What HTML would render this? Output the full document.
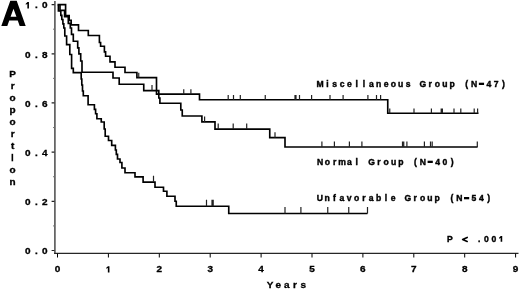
<!DOCTYPE html>
<html><head><meta charset="utf-8"><style>
html,body{margin:0;padding:0;background:#fff;}
body{width:520px;height:291px;overflow:hidden;}
svg{display:block;will-change:transform;}
</style></head><body>
<svg width="520" height="291" viewBox="0 0 520 291">
<rect width="520" height="291" fill="#fff"/>
<g fill="none" stroke="#000">
<path d="M54.9,1 V253.9" stroke-width="1.6" stroke="#555"/>
<path d="M54.1,253.4 H518.5" stroke-width="1.1" stroke="#262626"/>
<path d="M51.6,250.50 H54.5 M51.6,201.32 H54.5 M51.6,152.14 H54.5 M51.6,102.96 H54.5 M51.6,53.78 H54.5 M51.6,4.60 H54.5" stroke-width="1.2" stroke="#222"/>
<path d="M53,225.91 H54.5 M53,176.73 H54.5 M53,127.55 H54.5 M53,78.37 H54.5 M53,29.19 H54.5" stroke-width="1" stroke="#777"/>
<path d="M57.50,253.5 V257.5 M108.40,253.5 V257.5 M159.30,253.5 V257.5 M210.20,253.5 V257.5 M261.10,253.5 V257.5 M312.00,253.5 V257.5 M362.90,253.5 V257.5 M413.80,253.5 V257.5 M464.70,253.5 V257.5 M515.60,253.5 V257.5" stroke-width="1"/>
<path d="M57.5,4.7 H65.6 V15.6 H69.2 V20.3 H71.2 V24.8 H78.5 V30.5 H88.3 V35.5 H99.4 V42.5 H100.6 V46.25 H104.4 V51.9 H105.6 V56.25 H110 V61.9 H115 V67.25 H125 V72.5 H136.9 V77.6 H156.5 V94.15 H199.5 V99.75 H387.75 V113.2 H478.5" stroke-width="1.65"/>
<path d="M60,4.7 V10.3 H64.6 V16.6 H68.3 V23.3 H70.3 V28 H71.5 V34.4 H73.3 V41.2 H77.7 V47.8 H78.9 V53.9 H80.7 V61 H82 V72.2 H113 V78 H119.2 V84.2 H143.75 V90.6 H158.8 V98 H159.9 V103.2 H180.8 V110 H182.25 V116 H201.9 V121.9 H215 V129.05 H269.75 V137.65 H285 V147.0 H477.6" stroke-width="1.65"/>
<path d="M58.4,4.7 V11 H60.8 V15.4 H61.8 V19.5 H62.9 V23.8 H63.8 V28 H64.8 V36 H66.6 V44.6 H69.8 V54.5 H71.6 V68.3 H73.3 V72.6 H81.2 V79 H81.8 V85 H82.5 V91 H83.3 V95.7 H88.1 V104.75 H94.4 V109.4 H95.6 V113.75 H96.9 V118.75 H101.25 V122 H104.2 V129 H105.2 V136.25 H108.5 V140.5 H111.7 V145.4 H115.4 V150 H116.3 V154.4 H117.5 V159 H120 V162.5 H121.9 V168 H125 V172.75 H135 V176.9 H143.1 V182.1 H155 V187.2 H163.5 V191.25 H166.9 V196.25 H175 V201.25 H176.25 V206.2 H228.75 V213.5 H367.5" stroke-width="1.65"/>
<path d="M153.5,182.1 V175.70 M206.5,206.2 V199.80 M212.0,206.2 V199.80 M213.2,206.2 V199.80 M285,213.5 V207.10 M300.9,213.5 V207.10 M327.75,213.5 V207.10 M348.75,213.5 V207.10 M367.5,213.5 V207.10 M138.75,77.6 V72.80 M183.75,94.15 V89.35 M190.9,94.15 V89.35 M228.2,99.75 V94.95 M233.5,99.75 V94.95 M240.3,99.75 V94.95 M265.25,99.75 V94.95 M295,99.75 V94.95 M296,99.75 V94.95 M299.5,99.75 V94.95 M311.6,99.75 V94.95 M330,99.75 V94.95 M343.1,99.75 V94.95 M367.9,99.75 V94.95 M376.5,99.75 V94.95 M380.6,99.75 V94.95 M389.75,113.2 V108.40 M414,113.2 V108.40 M431.4,113.2 V108.40 M441.2,113.2 V108.40 M442.4,113.2 V108.40 M454,113.2 V108.40 M460.8,113.2 V108.40 M474.2,113.2 V108.40 M477.6,113.2 V108.40 M152,90.6 V85.10 M204.6,121.9 V116.40 M218.2,129.05 V123.55 M233.2,129.05 V123.55 M246.7,129.05 V123.55 M275,137.65 V132.15 M321.9,147.0 V141.50 M334.4,147.0 V141.50 M349.4,147.0 V141.50 M361.9,147.0 V141.50 M402.5,147.0 V141.50 M403.75,147.0 V141.50 M406.9,147.0 V141.50 M424.4,147.0 V141.50 M430.5,147.0 V141.50 M432.2,147.0 V141.50 M477.3,147.0 V141.50" stroke-width="1.2" stroke="#222"/>
</g>
<g font-family='"Liberation Sans", sans-serif' font-weight="bold" fill="#000">
<text x="27.90 36.35 44.80" y="254.30" font-size="10.0" text-anchor="middle" stroke="#000" stroke-width="0.35" transform="matrix(1 0 0 0.86 0 35.602)">0.0</text>
<text x="27.90 36.35 44.80" y="205.12" font-size="10.0" text-anchor="middle" stroke="#000" stroke-width="0.35" transform="matrix(1 0 0 0.86 0 28.717)">0.2</text>
<text x="27.90 36.35 44.80" y="155.94" font-size="10.0" text-anchor="middle" stroke="#000" stroke-width="0.35" transform="matrix(1 0 0 0.86 0 21.832)">0.4</text>
<text x="27.90 36.35 44.80" y="106.76" font-size="10.0" text-anchor="middle" stroke="#000" stroke-width="0.35" transform="matrix(1 0 0 0.86 0 14.946)">0.6</text>
<text x="27.90 36.35 44.80" y="57.58" font-size="10.0" text-anchor="middle" stroke="#000" stroke-width="0.35" transform="matrix(1 0 0 0.86 0 8.061)">0.8</text>
<text x="36.35 44.80" y="8.40" font-size="10.0" text-anchor="middle" stroke="#000" stroke-width="0.35" transform="matrix(1 0 0 0.86 0 1.176)">.0</text>
<text x="57.50" y="272.4" font-size="10.0" text-anchor="middle" stroke="#000" stroke-width="0.35" transform="matrix(1 0 0 0.86 0 38.136)">0</text>
<text x="159.30" y="272.4" font-size="10.0" text-anchor="middle" stroke="#000" stroke-width="0.35" transform="matrix(1 0 0 0.86 0 38.136)">2</text>
<text x="210.20" y="272.4" font-size="10.0" text-anchor="middle" stroke="#000" stroke-width="0.35" transform="matrix(1 0 0 0.86 0 38.136)">3</text>
<text x="261.10" y="272.4" font-size="10.0" text-anchor="middle" stroke="#000" stroke-width="0.35" transform="matrix(1 0 0 0.86 0 38.136)">4</text>
<text x="312.00" y="272.4" font-size="10.0" text-anchor="middle" stroke="#000" stroke-width="0.35" transform="matrix(1 0 0 0.86 0 38.136)">5</text>
<text x="362.90" y="272.4" font-size="10.0" text-anchor="middle" stroke="#000" stroke-width="0.35" transform="matrix(1 0 0 0.86 0 38.136)">6</text>
<text x="413.80" y="272.4" font-size="10.0" text-anchor="middle" stroke="#000" stroke-width="0.35" transform="matrix(1 0 0 0.86 0 38.136)">7</text>
<text x="464.70" y="272.4" font-size="10.0" text-anchor="middle" stroke="#000" stroke-width="0.35" transform="matrix(1 0 0 0.86 0 38.136)">8</text>
<text x="515.60" y="272.4" font-size="10.0" text-anchor="middle" stroke="#000" stroke-width="0.35" transform="matrix(1 0 0 0.86 0 38.136)">9</text>
<text x="270.00 278.35 286.70 295.05 303.40" y="288.0" font-size="10.0" text-anchor="middle" stroke="#000" stroke-width="0.35" transform="matrix(1 0 0 0.86 0 40.320)">Years</text>
<rect x="11.55" y="153.8" width="1.6" height="7.5"/>
<text x="12.6" y="77.20" font-size="10.0" text-anchor="middle" stroke="#000" stroke-width="0.35" transform="matrix(1 0 0 0.86 0 10.808)">P</text>
<text x="12.6" y="89.17" font-size="10.0" text-anchor="middle" stroke="#000" stroke-width="0.35" transform="matrix(1 0 0 0.86 0 12.484)">r</text>
<text x="12.6" y="101.14" font-size="10.0" text-anchor="middle" stroke="#000" stroke-width="0.35" transform="matrix(1 0 0 0.86 0 14.160)">o</text>
<text x="12.6" y="113.11" font-size="10.0" text-anchor="middle" stroke="#000" stroke-width="0.35" transform="matrix(1 0 0 0.86 0 15.835)">p</text>
<text x="12.6" y="125.08" font-size="10.0" text-anchor="middle" stroke="#000" stroke-width="0.35" transform="matrix(1 0 0 0.86 0 17.511)">o</text>
<text x="12.6" y="137.05" font-size="10.0" text-anchor="middle" stroke="#000" stroke-width="0.35" transform="matrix(1 0 0 0.86 0 19.187)">r</text>
<text x="12.6" y="149.02" font-size="10.0" text-anchor="middle" stroke="#000" stroke-width="0.35" transform="matrix(1 0 0 0.86 0 20.863)">t</text>
<text x="12.6" y="172.96" font-size="10.0" text-anchor="middle" stroke="#000" stroke-width="0.35" transform="matrix(1 0 0 0.86 0 24.214)">o</text>
<text x="12.6" y="184.93" font-size="10.0" text-anchor="middle" stroke="#000" stroke-width="0.35" transform="matrix(1 0 0 0.86 0 25.890)">n</text>
<path d="M1.3,25.9 L10.3,0.8 L16.7,0.8 L25.7,25.9 L19.7,25.9 L17.76,20.5 L9.24,20.5 L7.3,25.9 Z M10.57,16.8 L16.43,16.8 L13.5,8.64 Z" fill-rule="evenodd"/>
<text x="320.00 327.34 334.68 342.02 349.36 356.70 364.04 371.38 378.72 386.06 393.40 400.74 408.08 422.76 430.10 437.44 444.78 452.12 466.80 474.14 488.82 496.16 503.50" y="86.6" font-size="8.6" text-anchor="middle" stroke="#000" stroke-width="0.4">MiscellaneousGroup(N47)</text>
<rect x="478.88" y="82.70" width="5.2" height="2.3"/>
<text x="320.10 327.44 334.78 342.12 349.46 356.80 371.48 378.82 386.16 393.50 400.84 415.52 422.86 437.54 444.88 452.22" y="164.6" font-size="8.6" text-anchor="middle" stroke="#000" stroke-width="0.4">NormalGroup(N40)</text>
<rect x="427.60" y="160.70" width="5.2" height="2.3"/>
<text x="319.80 327.14 334.48 341.82 349.16 356.50 363.84 371.18 378.52 385.86 393.20 407.88 415.22 422.56 429.90 437.24 451.92 459.26 473.94 481.28 488.62" y="200.9" font-size="8.6" text-anchor="middle" stroke="#000" stroke-width="0.4">UnfavorableGroup(N54)</text>
<rect x="464.00" y="197.00" width="5.2" height="2.3"/>
<text x="449.80 479.16 486.50 493.84" y="241.8" font-size="8.6" text-anchor="middle" stroke="#000" stroke-width="0.4">P.00</text>
<path d="M467.2,237.4 L462.6,239.4 L467.2,241.4" fill="none" stroke="#000" stroke-width="1.6" stroke-linejoin="round" stroke-linecap="round"/>
<path d="M27.35,8.40 L28.95,8.40 L28.95,2.10 L27.45,2.10 L25.75,3.70 L25.75,4.70 L27.35,4.00 Z M107.85,272.60 L109.45,272.60 L109.45,266.20 L107.95,266.20 L106.25,267.80 L106.25,268.80 L107.85,268.10 Z M500.63,241.80 L502.23,241.80 L502.23,236.10 L500.73,236.10 L499.03,237.70 L499.03,238.70 L500.63,238.00 Z"/>
</g>
</svg>
</body></html>
